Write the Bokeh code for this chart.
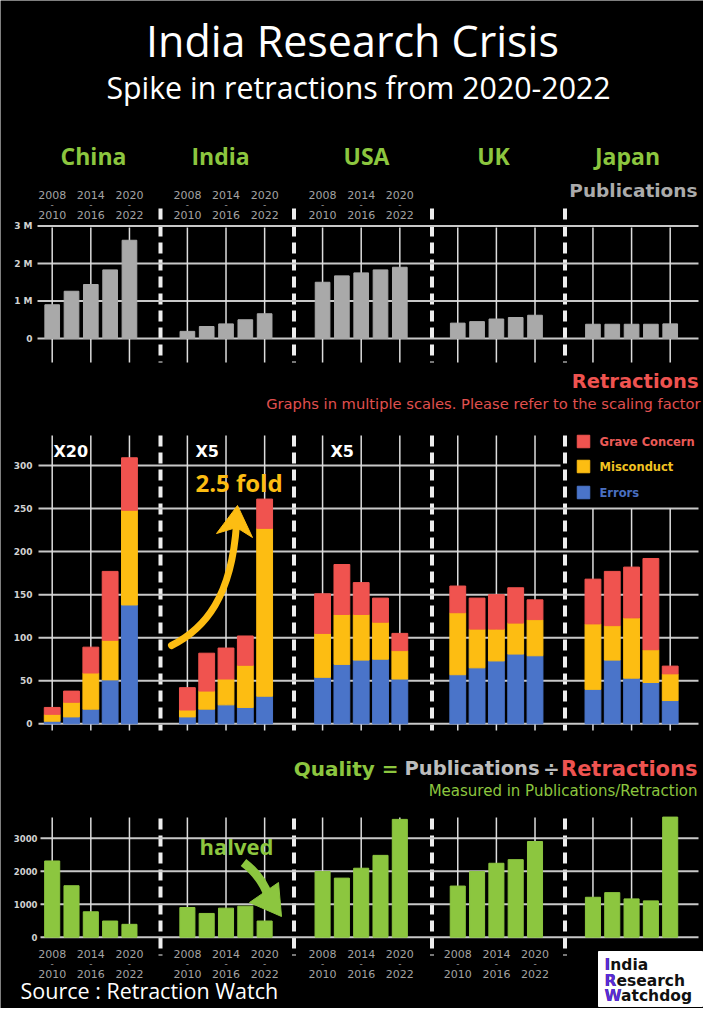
from bokeh.plotting import figure
from bokeh.models import Range1d, ColumnDataSource
from bokeh.core.properties import value
from bokeh.embed import file_html
from bokeh.resources import INLINE

# ---------------- data ----------------
countries = ["China", "India", "USA", "UK", "Japan"]
periods = ["2008-2010", "2011-2013", "2014-2016", "2017-2019", "2020-2022"]
tick_periods = ["2008-2010", "2014-2016", "2020-2022"]
year_from = ["2008", "2014", "2020"]
year_to = ["2010", "2016", "2022"]

# publications, millions (China, India, USA, UK, Japan x 5 periods)
publications_m = [0.90, 1.26, 1.44, 1.83, 2.62,
                  0.19, 0.32, 0.39, 0.50, 0.66,
                  1.50, 1.67, 1.75, 1.83, 1.90,
                  0.41, 0.45, 0.52, 0.56, 0.62,
                  0.38, 0.38, 0.38, 0.38, 0.39]
# retractions (scaled values as plotted)
errors = [3, 8, 17, 51, 138,
          8, 17, 22, 19, 32,
          54, 69, 74, 75, 52,
          57, 65, 73, 81, 79,
          40, 74, 53, 48, 27]
misconduct = [8, 17, 42, 46, 110,
              8, 21, 30, 49, 195,
              51, 58, 53, 43, 33,
              72, 45, 37, 36, 42,
              76, 40, 70, 38, 31]
grave = [8, 13, 30, 80, 61,
         26, 44, 36, 34, 34,
         46, 58, 37, 28, 20,
         31, 36, 40, 41, 23,
         52, 63, 59, 106, 9]
# quality, publications per retraction
quality = [2310, 1560, 770, 490, 390,
           900, 720, 880, 940, 490,
           1990, 1790, 2090, 2480, 3570,
           1550, 1990, 2240, 2350, 2900,
           1210, 1350, 1160, 1100, 3640]
scale_factors = ["X20", "X5", "X5"]

pub_ticks = [0, 1, 2, 3]
pub_tick_labels = ["0", "1 M", "2 M", "3 M"]
ret_ticks = [0, 50, 100, 150, 200, 250, 300]
qual_ticks = [0, 1000, 2000, 3000]

# ---------------- styling ----------------
BG = "#000000"
GRID = "#c8c8c8"
GRAY_BAR = "#a9a9a9"
RED = "#f0534f"
YELLOW = "#fdbd12"
BLUE = "#4a74c9"
GREEN = "#8cc63f"
YEARC = "#a3a3a3"
TICKC = "#d2d2d2"
HUM = "Open Sans"
GEO = "DejaVu Sans"

W, H = 703, 1008
LEFT, RIGHT, TOP, BOT = 0, W, 0, H

# categorical slots: each country group is 5 periods wide plus a gap of 2 slots
GROUP = 7
slot = {(c, per): ci * GROUP + pi
        for ci, c in enumerate(countries) for pi, per in enumerate(periods)}
factors = [(c, per) for c in countries for per in periods]
bar_x = [slot[f] for f in factors]

p = figure(width=W, height=H, x_range=Range1d(LEFT, RIGHT), y_range=Range1d(BOT, TOP),
           output_backend="svg", toolbar_location=None,
           background_fill_color=BG, border_fill_color=BG, min_border=0,
           outline_line_color=None, x_axis_location=None, y_axis_location=None)
p.grid.visible = False


def lin_range(v0, px0, v1, px1, lo, hi):
    # value range whose ends sit on the frame edges (lo, hi in frame px)
    per = (v1 - v0) / (px1 - px0)
    return Range1d(start=v0 + (lo - px0) * per, end=v0 + (hi - px0) * per)


last = slot[(countries[-1], periods[-1])]
p.extra_x_ranges = {"cat": lin_range(0, 51.7, last, 669.7, LEFT, RIGHT)}
# y ranges: frame y grows downward, so bottom edge = BOT
p.extra_y_ranges = {"pub": lin_range(0, 338, 3, 225.5, BOT, TOP),
                    "ret": lin_range(0, 723.3, 300, 465, BOT, TOP),
                    "qual": lin_range(0, 936.7, 3000, 837.7, BOT, TOP)}


def T(x, y, s, size, color, font=HUM, style="normal", align="left", baseline="middle", **kw):
    args = {"x": x, "y": y, "text": s, "text_color": color}
    n = max(len(v) if isinstance(v, list) else 1 for v in args.values())
    data = {k: (v if isinstance(v, list) else [v] * n) for k, v in args.items()}
    src = ColumnDataSource(data)
    p.text(x="x", y="y", text="text", text_color="text_color", source=src,
           text_font=value(font), text_font_size=f"{size}px",
           text_font_style=style, text_align=align, text_baseline=baseline, **kw)


# ---------------- headings ----------------
T(352, 40, "India Research Crisis", 43, "#ffffff", align="center")
T(358, 87, "Spike in retractions from 2020-2022", 30.3, "#ffffff", align="center")
T([93, 220, 366, 493, 627], 155, countries, 23, GREEN, style="bold", align="center")
T(697, 190, "Publications", 18.5, "#ababab", font=GEO, style="bold", align="right")

# ---------------- separators ----------------
sep_x = [160, 293.5, 431.5, 564.5]
for (ya, yb) in [(208, 362), (435, 730), (818, 955)]:
    p.segment(x0=sep_x, x1=sep_x, y0=[ya] * 4, y1=[yb] * 4,
              line_color="#eeeeee", line_width=4, line_dash="11 6")

# ---------------- publications panel ----------------
n_pt = len(pub_ticks)
p.segment(x0=[37] * n_pt, x1=[698] * n_pt, y0=pub_ticks, y1=pub_ticks, y_range_name="pub",
          line_color=GRID, line_width=2)
vx = [slot[(c, per)] for c in countries for per in tick_periods]
nv = len(vx)
p.segment(x0=vx, x1=vx, y0=[227] * nv, y1=[362] * nv, x_range_name="cat",
          line_color="#dddddd", line_width=1.5)
p.vbar(x=bar_x, top=publications_m, bottom=0, width=0.76, color=GRAY_BAR,
       x_range_name="cat", y_range_name="pub")
T(32, pub_ticks, pub_tick_labels, 9, TICKC, font=GEO, style="bold", align="right",
  y_range_name="pub")
top_x = [slot[(c, per)] for c in countries[:3] for per in tick_periods]
T(top_x, 194, year_from * 3, 11, YEARC, font=GEO, align="center", x_range_name="cat")
T(top_x, 204, "-", 9, YEARC, font=GEO, align="center", x_range_name="cat")
T(top_x, 214, year_to * 3, 11, YEARC, font=GEO, align="center", x_range_name="cat")

# ---------------- retractions panel ----------------
T(698, 381, "Retractions", 19.5, "#ef5350", font=GEO, style="bold", align="right")
T(700, 403, "Graphs in multiple scales. Please refer to the scaling factor", 14.7, "#e0504f",
  font=GEO, align="right")
n_rt = len(ret_ticks)
p.segment(x0=[38] * n_rt, x1=[698] * (n_rt - 1) + [560], y0=ret_ticks, y1=ret_ticks,
          y_range_name="ret", line_color=GRID, line_width=2)
vy0 = [435] * 12 + [508] * 3
p.segment(x0=vx, x1=vx, y0=vy0, y1=[730] * nv, x_range_name="cat",
          line_color="#dddddd", line_width=1.5)
src = ColumnDataSource(dict(x=bar_x, errors=errors, misconduct=misconduct, grave=grave))
p.vbar_stack(["errors", "misconduct", "grave"], x="x", width=0.82, color=[BLUE, YELLOW, RED],
             source=src, x_range_name="cat", y_range_name="ret")
T(32, ret_ticks, [str(t) for t in ret_ticks], 9, TICKC, font=GEO, style="bold", align="right",
  y_range_name="ret")
T([53, 195, 330], 451, scale_factors, 16, "#ffffff", font=GEO, style="bold")

# legend
leg_labels = ["Grave Concern", "Misconduct", "Errors"]
leg_colors = [RED, YELLOW, BLUE]
leg_y = [441, 466, 492]
p.rect(x=[583] * 3, y=leg_y, width=12.5, height=12.5, color=leg_colors)
T(599, leg_y, leg_labels, 11.5, ["#ea5a57", "#f2c322", "#4a6fc0"], font=GEO, style="bold")

# 2.5 fold annotation
T(238.5, 482, "2.5 fold", 24, YELLOW, style="bold", align="center")
p.bezier(x0=[171], y0=[645], x1=[236], y1=[524], cx0=[205], cy0=[628], cx1=[231], cy1=[596],
         line_color=YELLOW, line_width=7, line_cap="round")
p.patch(x=[237, 252, 236, 216], y=[505, 537, 527, 533], color=YELLOW)

# ---------------- quality panel ----------------
T(398, 768, "Quality =", 20, GREEN, font=GEO, style="bold", align="right")
T(404, 768, "Publications", 19.5, "#bdbdbd", font=GEO, style="bold", align="left")
T(551, 768, "÷", 20, "#bdbdbd", font=GEO, style="bold", align="center")
T(697, 768, "Retractions", 21, "#ef5350", font=GEO, style="bold", align="right")
T(697, 790, "Measured in Publications/Retraction", 15, GREEN, font=GEO, align="right")

n_qt = len(qual_ticks)
p.segment(x0=[40] * n_qt, x1=[698] * n_qt, y0=qual_ticks, y1=qual_ticks, y_range_name="qual",
          line_color=GRID, line_width=2)
p.segment(x0=vx, x1=vx, y0=[817] * nv, y1=[937] * nv, x_range_name="cat",
          line_color="#dddddd", line_width=1.5)
p.vbar(x=bar_x, top=quality, bottom=0, width=0.78, color=GREEN,
       x_range_name="cat", y_range_name="qual")
T(37, qual_ticks, [str(t) for t in qual_ticks], 8.5, TICKC, font=GEO, style="bold",
  align="right", y_range_name="qual")
bot_x = [slot[(c, per)] for c in countries[:4] for per in tick_periods]
T(bot_x, 953, year_from * 4, 11, YEARC, font=GEO, align="center", x_range_name="cat")
T(bot_x, 963, "-", 9, YEARC, font=GEO, align="center", x_range_name="cat")
T(bot_x, 973, year_to * 4, 11, YEARC, font=GEO, align="center", x_range_name="cat")

# halved annotation
T(236, 845, "halved", 22, GREEN, style="bold", align="center")
p.bezier(x0=[243], y0=[862], x1=[268], y1=[896], cx0=[256], cy0=[872], cx1=[264], cy1=[884],
         line_color=GREEN, line_width=9)
p.patch(x=[249, 278, 281], y=[902, 882, 916], color=GREEN)

# ---------------- footer ----------------
T(20, 990, "Source : Retraction Watch", 21.5, "#ffffff")
p.quad(left=[598], right=[702], top=[951], bottom=[1006], color="#ffffff")
logo_words = ["India", "Research", "Watchdog"]
logo_y = [964, 980, 995]
T(604, logo_y, logo_words, 15.5, "#111111", font=GEO, style="bold")
T(604, logo_y, [w[0] for w in logo_words], 15.5, "#5b2bd9", font=GEO, style="bold")

open("out.html", "w").write(file_html(p, INLINE))
